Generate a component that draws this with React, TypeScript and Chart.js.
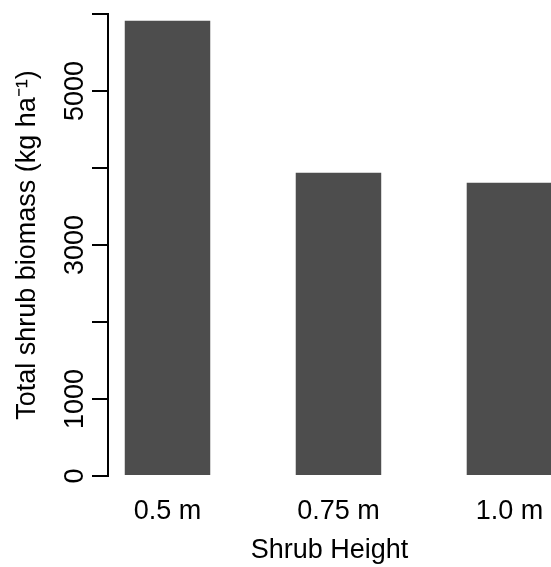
import React, { useEffect, useRef } from "react";
import { Chart, registerables } from "chart.js";

Chart.register(...registerables);

const categories = ["0.5 m", "0.75 m", "1.0 m"];
const biomass = [5913, 3939, 3809];
const yTickLabels = ["0", "1000", "", "3000", "", "5000", ""];
const xTitle = "Shrub Height";
const yTitle = "Total shrub biomass (kg ha\u207B\u00B9)";

const FONT = { family: "'Liberation Sans', Arial, sans-serif", size: 27 };

export default function App() {
  const ref = useRef<HTMLCanvasElement | null>(null);

  useEffect(() => {
    if (!ref.current) return;
    const chart = new Chart(ref.current, {
      type: "bar",
      data: {
        datasets: [
          {
            data: categories.map((_, i) => ({ x: i, y: biomass[i] })),
            backgroundColor: "#4d4d4d",
            borderWidth: 0,
            categoryPercentage: 1,
            barPercentage: 0.5,
          } as any,
        ],
      },
      options: {
        animation: false,
        responsive: true,
        maintainAspectRatio: false,
        layout: { padding: { top: 14, left: 0, right: 0, bottom: 0 } },
        plugins: { legend: { display: false }, tooltip: { enabled: false } },
        scales: {
          x: {
            type: "linear",
            offset: false,
            min: -0.348,
            max: 2.243,
            grid: { display: false, drawTicks: false, offset: false },
            border: { display: false },
            afterBuildTicks: (s: any) => {
              s.ticks = categories.map((_, i) => ({ value: i }));
            },
            ticks: {
              callback: (v: any) => categories[v as number] ?? "",
              font: FONT,
              color: "#000",
              padding: 19,
              maxRotation: 0,
              minRotation: 0,
              autoSkip: false,
            },
            title: { display: true, text: xTitle, font: FONT, color: "#000", padding: 0 },
            afterFit: (s: any) => {
              s.height = 91;
              s.paddingLeft = 0;
              s.paddingRight = 0;
            },
          },
          y: {
            min: 0,
            max: 6000,
            ticks: {
              stepSize: 1000,
              callback: (_v: any, i: number) => yTickLabels[i] ?? "",
              minRotation: 90,
              maxRotation: 90,
              crossAlign: "center",
              padding: -13.6,
              font: FONT,
              color: "#000",
              autoSkip: false,
            },
            grid: { drawOnChartArea: false, tickLength: 16, color: "#000", lineWidth: 2 },
            border: { display: true, color: "#000", width: 2 },
            title: { display: true, text: yTitle, font: FONT, color: "#000", padding: { top: 11, bottom: 0 } },
            afterFit: (s: any) => {
              s.width = 108;
              s.paddingTop = 0;
              s.paddingBottom = 0;
            },
          },
        },
      } as any,
    });
    return () => chart.destroy();
  }, []);

  return (
    <div style={{ position: "fixed", left: 0, top: 0, width: 551, height: 567, background: "#fff" }}>
      <canvas ref={ref} />
    </div>
  );
}
